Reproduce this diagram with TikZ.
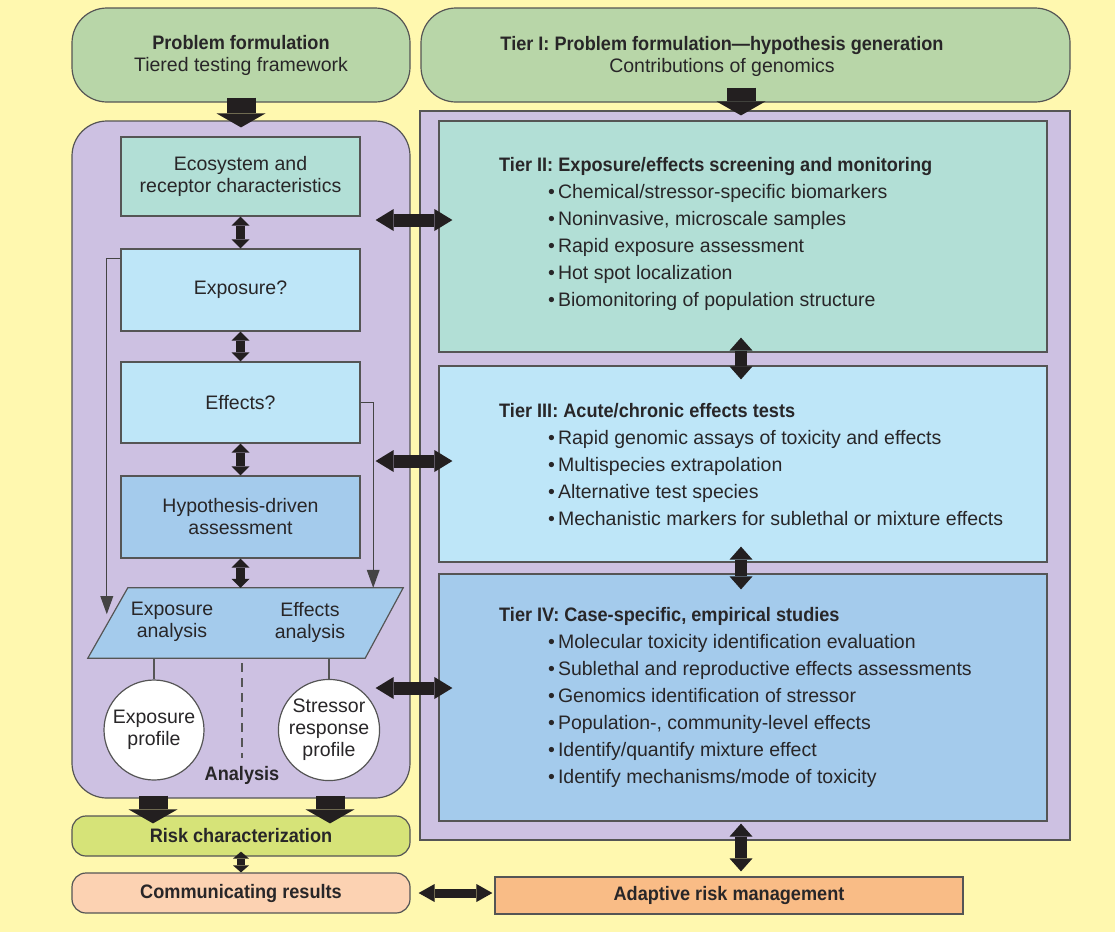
\documentclass[tikz,border=0pt]{standalone}
\usepackage{fontspec}
\setmainfont{Liberation Sans}[BoldFeatures={FakeStretch=0.93}]
\usetikzlibrary{arrows.meta,calc}
\definecolor{bgyellow}{RGB}{255,248,175}
\definecolor{pfgreen}{RGB}{184,214,168}
\definecolor{lav}{RGB}{205,193,226}
\definecolor{mint}{RGB}{178,223,214}
\definecolor{lblue}{RGB}{190,230,248}
\definecolor{mblue}{RGB}{164,203,236}
\definecolor{riskg}{RGB}{214,227,120}
\definecolor{peach}{RGB}{252,210,178}
\definecolor{orng}{RGB}{249,188,134}
\definecolor{arrowc}{RGB}{35,31,32}
\definecolor{bordc}{RGB}{85,85,85}
\definecolor{txtc}{RGB}{40,38,40}
\begin{document}
\begin{tikzpicture}[x=1pt,y=-1pt,
  box/.style={draw=bordc, line width=1.2pt, inner sep=0pt, align=center, text=txtc,
    font=\fontsize{19.5}{22}\selectfont},
  rbox/.style={box, rounded corners=35pt},
  sbox/.style={box, rounded corners=14pt},
  txt/.style={inner sep=0pt, align=center, text=txtc, font=\fontsize{19.5}{22}\selectfont},
  listtxt/.style={inner sep=0pt, align=left, anchor=base west, text=txtc,
    font=\fontsize{19.5}{27}\selectfont},
  blockarrow/.style={arrowc, line width=29pt, -{Triangle[width=49pt,length=14pt,line width=0pt]}},
  vdbl/.style={arrowc, line width=12pt, {Triangle[width=23pt,length=13pt,line width=0pt]}-{Triangle[width=23pt,length=13pt,line width=0pt]}},
  hdbl/.style={arrowc, line width=13pt, {Triangle[width=22pt,length=18pt,line width=0pt]}-{Triangle[width=22pt,length=18pt,line width=0pt]}},
  sdbl/.style={arrowc, line width=9pt, {Triangle[width=18pt,length=9pt,line width=0pt]}-{Triangle[width=18pt,length=9pt,line width=0pt]}},
  tdbl/.style={arrowc, line width=8pt, {Triangle[width=16pt,length=7pt,line width=0pt]}-{Triangle[width=16pt,length=7pt,line width=0pt]}},
  cdbl/.style={arrowc, line width=9pt, {Triangle[width=18pt,length=16pt,line width=0pt]}-{Triangle[width=18pt,length=16pt,line width=0pt]}},
  conn/.style={draw=bordc!80!black, line width=1.3pt, -{Triangle[width=13pt,length=18pt,line width=0pt]}},
]
\fill[bgyellow] (0,0) rectangle (1115,932);
\useasboundingbox (0,0) rectangle (1115,932);

% top boxes
\node[rbox, fill=pfgreen, minimum width=338pt, minimum height=94pt] (pf) at (241,55)
  {\textbf{Problem formulation}\\Tiered testing framework};
\node[rbox, fill=pfgreen, minimum width=649pt, minimum height=94pt] (t1) at (745.5,55) {};
\node[txt] (t1txt) at (722,56) {\textbf{Tier I: Problem formulation---hypothesis generation}\\Contributions of genomics};

% panels
\node[rbox, fill=lav, minimum width=338pt, minimum height=677pt] (lp) at (241,459.5) {};
\node[box, fill=lav, minimum width=650pt, minimum height=729pt] (rp) at (745,475.5) {};

% left column boxes
\node[box, fill=mint, minimum width=239pt, minimum height=79pt] (eco) at (240.5,176.5)
  {Ecosystem and\\receptor characteristics};
\node[box, fill=lblue, minimum width=239pt, minimum height=82pt] (expo) at (240.5,290) {Exposure?};
\node[box, fill=lblue, minimum width=239pt, minimum height=81pt] (eff) at (240.5,402.5) {Effects?};
\node[box, fill=mblue, minimum width=239pt, minimum height=82pt] (hyp) at (240.5,517)
  {Hypothesis-driven\\assessment};

% parallelogram
\node[inner sep=0pt, minimum width=315pt, minimum height=70pt] (para) at (245.5,623) {};
\draw[draw=bordc, line width=1.2pt, fill=mblue] (para.south west) -- ([xshift=40pt]para.north west)
  -- (para.north east) -- ([xshift=-38pt]para.south east) -- cycle;
\node[txt] (expa) at (172,622) {Exposure\\analysis};
\node[txt] (effa) at (310,622) {Effects\\analysis};

% circles
\node[box, circle, fill=white, minimum size=100pt] (c1) at (154,730) {Exposure\\profile};
\node[box, circle, fill=white, minimum size=100pt] (c2) at (329,730) {Stressor\\response\\profile};
\draw[draw=bordc, line width=1.2pt] (c1.north |- para.south) -- (c1.north);
\draw[draw=bordc, line width=1.2pt] (c2.north |- para.south) -- (c2.north);
\draw[draw=bordc, line width=1.2pt, dash pattern=on 9pt off 6pt] (242,663) -- (242,758);
\node[txt] (anal) at (242,775) {\textbf{Analysis}};

% thin connectors
\draw[conn] ([yshift=-10pt]expo.north west) -| ([xshift=19pt,yshift=44pt]para.south west);
\draw[conn] (eff.east) -| ([xshift=-30pt]para.north east);

% tier boxes
\node[box, fill=mint, minimum width=608pt, minimum height=231pt] (t2) at (743,236.5) {};
\node[box, fill=lblue, minimum width=608pt, minimum height=196pt] (t3) at (743,464) {};
\node[box, fill=mblue, minimum width=608pt, minimum height=247pt] (t4) at (743,697.5) {};

\node[listtxt] (t2txt) at (499,306) {\textbf{Tier II: Exposure/effects screening and monitoring}\\
  \hspace*{49pt}•\hspace{3pt}Chemical/stressor-specific biomarkers\\
  \hspace*{49pt}•\hspace{3pt}Noninvasive, microscale samples\\
  \hspace*{49pt}•\hspace{3pt}Rapid exposure assessment\\
  \hspace*{49pt}•\hspace{3pt}Hot spot localization\\
  \hspace*{49pt}•\hspace{3pt}Biomonitoring of population structure};
\node[listtxt] (t3txt) at (499,525) {\textbf{Tier III: Acute/chronic effects tests}\\
  \hspace*{49pt}•\hspace{3pt}Rapid genomic assays of toxicity and effects\\
  \hspace*{49pt}•\hspace{3pt}Multispecies extrapolation\\
  \hspace*{49pt}•\hspace{3pt}Alternative test species\\
  \hspace*{49pt}•\hspace{3pt}Mechanistic markers for sublethal or mixture effects};
\node[listtxt] (t4txt) at (499,783) {\textbf{Tier IV: Case-specific, empirical studies}\\
  \hspace*{49pt}•\hspace{3pt}Molecular toxicity identification evaluation\\
  \hspace*{49pt}•\hspace{3pt}Sublethal and reproductive effects assessments\\
  \hspace*{49pt}•\hspace{3pt}Genomics identification of stressor\\
  \hspace*{49pt}•\hspace{3pt}Population-, community-level effects\\
  \hspace*{49pt}•\hspace{3pt}Identify/quantify mixture effect\\
  \hspace*{49pt}•\hspace{3pt}Identify mechanisms/mode of toxicity};

% bottom boxes
\node[sbox, fill=riskg, minimum width=338pt, minimum height=40pt] (risk) at (241,836) {\textbf{Risk characterization}};
\node[sbox, fill=peach, minimum width=338pt, minimum height=40pt] (comm) at (241,893) {\textbf{Communicating results}};
\node[box, fill=orng, minimum width=468pt, minimum height=37pt] (adapt) at (729,895.5) {\textbf{Adaptive risk management}};

% block arrows
\draw[blockarrow] ([yshift=5pt]pf.south) -- ([yshift=-7pt]lp.north);
\draw[blockarrow] ([xshift=-4.5pt,yshift=15pt]t1.south) -- ([xshift=-4pt,yshift=-5pt]rp.north);
\draw[blockarrow] ([xshift=-88pt,yshift=3pt]lp.south) -- ([xshift=-88pt,yshift=-8pt]risk.north);
\draw[blockarrow] ([xshift=89pt,yshift=3pt]lp.south) -- ([xshift=89pt,yshift=-8pt]risk.north);

% small vertical double arrows
\draw[sdbl] (eco.south) -- (expo.north);
\draw[sdbl] (expo.south) -- (eff.north);
\draw[sdbl] (eff.south) -- (hyp.north);
\draw[sdbl] (hyp.south) -- (hyp.south |- para.north);
\draw[tdbl] ([yshift=5pt]risk.south) -- (comm.north);

% tier vertical arrows
\draw[vdbl] ([xshift=-2pt,yshift=15pt]t2.south) -- ([xshift=-2pt,yshift=-14pt]t3.north);
\draw[vdbl] ([xshift=-2pt,yshift=16pt]t3.south) -- ([xshift=-2pt,yshift=-16pt]t4.north);
\draw[vdbl] ([xshift=-4pt,yshift=17pt]rp.south) -- ([xshift=-4pt,yshift=5pt]rp.south |- adapt.north);

% horizontal double arrows
\coordinate (h2) at ([yshift=16.5pt]t2.west);
\coordinate (h3) at ([yshift=3pt]t3.west);
\coordinate (h4) at ([yshift=9.5pt]t4.west);
\draw[hdbl] ([xshift=-35pt]lp.east |- h2) -- ([xshift=14pt]h2);
\draw[hdbl] ([xshift=-35pt]lp.east |- h3) -- ([xshift=14pt]h3);
\draw[hdbl] ([xshift=-35pt]lp.east |- h4) -- ([xshift=14pt]h4);
\draw[cdbl] ([xshift=8pt]comm.east) -- ([xshift=-2pt]comm.east -| adapt.west);
\end{tikzpicture}
\end{document}
